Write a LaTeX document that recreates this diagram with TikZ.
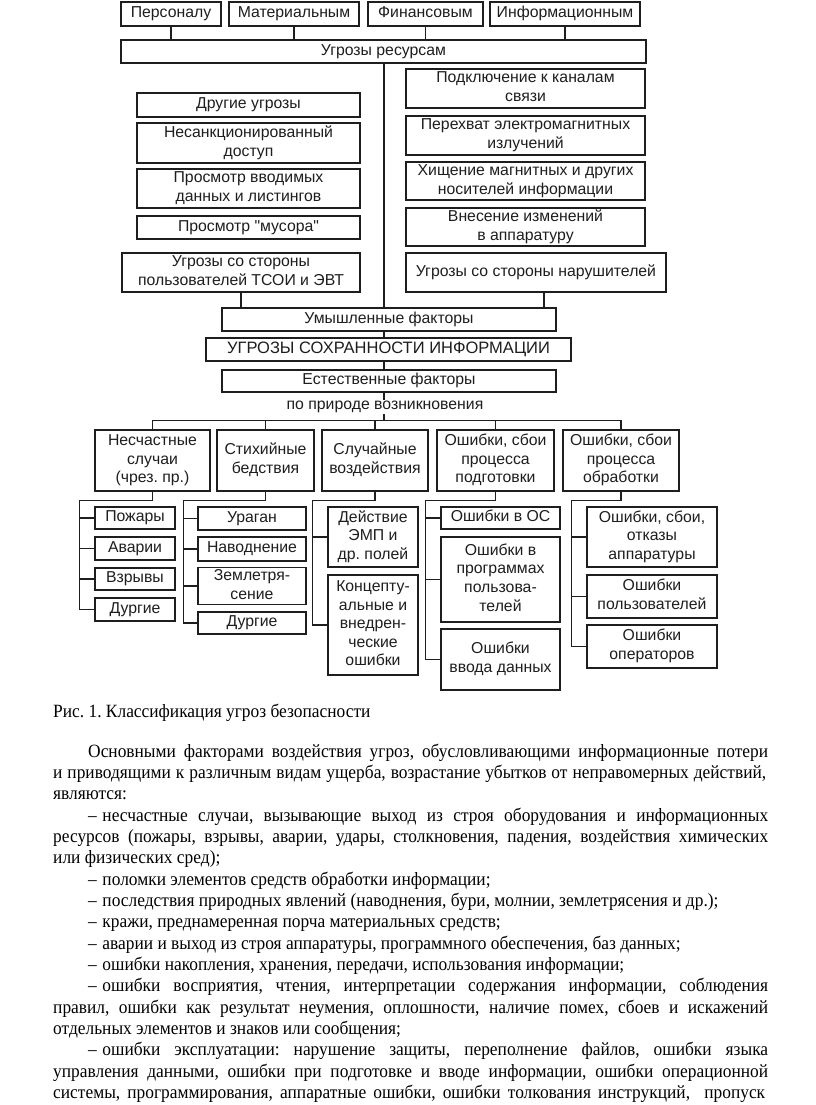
\documentclass[tikz,border=0pt]{standalone}
\usepackage{fontspec}
\setmainfont[FakeStretch=0.93]{Liberation Serif}
\newfontfamily\figfont{Liberation Sans}
\usetikzlibrary{calc}
\definecolor{ink}{HTML}{1E1E1E}
\frenchspacing
\tikzset{
  box/.style={draw=ink, line width=1.3pt, inner sep=0pt, align=center, text=ink,
    font=\figfont\fontsize{15.8}{18.6}\selectfont},
  bigbox/.style={box, font=\figfont\fontsize{16.5}{19}\selectfont},
  conn/.style={draw=ink, line width=1.3pt},
  bodytext/.style={anchor=base west, inner sep=0pt, text=black,
    font=\frenchspacing\fontsize{18.7}{21.4}\selectfont},
  lbl/.style={inner sep=1pt, text=ink, font=\figfont\fontsize{15.8}{18.6}\selectfont}
}
\newcommand\bx[7][box]{%
  \pgfmathsetmacro\bw{#5-#3}\pgfmathsetmacro\bh{#6-#4}%
  \node[#1, minimum width=\bw pt, minimum height=\bh pt] (#2) at ({(#3+#5)/2},{(#4+#6)/2}) {\strut #7\strut};}
\newcommand\txtline[4]{\node[bodytext] (#1) at (#2,#3) {#4};}
\newcommand\jline[5]{\node[bodytext] (#1) at (#2,#3) {\makebox[#4pt][s]{#5}};}
\begin{document}
\begin{tikzpicture}[x=1pt,y=-1pt]
\useasboundingbox (0,0) rectangle (816,1105);
\fill[white] (0,0) rectangle (816,1105);
% top row
\bx{pers}{121}{2}{221}{26}{Персоналу}
\bx{mat}{229}{2}{359}{26}{Материальным}
\bx{fin}{368}{2}{483}{26}{Финансовым}
\bx{inf}{490}{2}{640}{26}{Информационным}
\bx{res}{121}{40}{646}{63}{Угрозы ресурсам}
\foreach \n in {pers,mat,fin,inf} \draw[conn] (\n.south) -- (\n.south |- res.north);
% left column
\bx{l1}{137}{93}{360}{117}{Другие угрозы}
\bx{l2}{137}{123}{360}{163}{Несанкционированный\\доступ}
\bx{l3}{137}{169}{360}{208}{Просмотр вводимых\\данных и листингов}
\bx{l4}{137}{216}{360}{239}{Просмотр "мусора"}
\bx{lu}{122}{253}{360}{292}{Угрозы со стороны\\пользователей ТСОИ и ЭВТ}
% right column
\bx{r1}{406}{69}{645}{108}{Подключение к каналам\\связи}
\bx{r2}{406}{116}{645}{155}{Перехват электромагнитных\\излучений}
\bx{r3}{406}{162}{645}{200}{Хищение магнитных и других\\носителей информации}
\bx{r4}{406}{208}{645}{246}{Внесение изменений\\в аппаратуру}
\bx{ru}{406}{253}{666}{292}{Угрозы со стороны нарушителей}
% centre
\bx{um}{222}{308}{556}{331}{Умышленные факторы}
\bx[bigbox]{ug}{206}{338}{571}{361}{УГРОЗЫ СОХРАННОСТИ ИНФОРМАЦИИ}
\bx{est}{222}{370}{556}{392}{Естественные факторы}
\node[lbl] (nat) at (385,407) {по природе возникновения};
\draw[conn] (res.south -| 384,0) -- (um.north -| 384,0);
\draw[conn] (lu.south) -- (lu.south |- um.north);
\draw[conn] ([xshift=8pt]ru.south) -- ([xshift=8pt]ru.south |- um.north);
\draw[conn] (um.south -| 384,0) -- (ug.north -| 384,0);
\draw[conn] (ug.south -| 384,0) -- (est.north -| 384,0);
\draw[conn] (est.south -| 384,0) -- (nat.north -| 384,0);
% level 1
\bx{b1}{95}{430}{210}{491}{Несчастные\\случаи\\(чрез. пр.)}
\bx{b2}{217}{430}{314}{491}{Стихийные\\бедствия}
\bx{b3}{322}{430}{428}{491}{Случайные\\воздействия}
\bx{b4}{437}{430}{554}{491}{Ошибки, сбои\\процесса\\подготовки}
\bx{b5}{563}{430}{679}{491}{Ошибки, сбои\\процесса\\обработки}
\draw[conn] (b1.north) -- ++(0,-9) coordinate (bus) -| (b5.north);
\foreach \n in {b2,b3,b4} \draw[conn] (\n.north) -- (\n.north |- bus);
\draw[conn] (nat.south -| 384,0) -- (bus -| 384,0);
% children
\bx{c11}{95}{507}{175}{529}{Пожары}
\bx{c12}{95}{537}{175}{560}{Аварии}
\bx{c13}{95}{568}{175}{590}{Взрывы}
\bx{c14}{95}{598}{175}{621}{Дургие}
\bx{c21}{198}{507}{306}{530}{Ураган}
\bx{c22}{198}{537}{306}{561}{Наводнение}
\bx{c23}{198}{568}{306}{604}{Землетря-\\сение}
\bx{c24}{198}{612}{306}{634}{Дургие}
\bx{c31}{328}{507}{418}{567}{Действие\\ЭМП и\\др. полей}
\bx{c32}{328}{575}{418}{675}{Концепту-\\альные и\\внедрен-\\ческие\\ошибки}
\bx{c41}{441}{507}{560}{529}{Ошибки в ОС}
\bx{c42}{441}{537}{560}{622}{Ошибки в\\программах\\пользова-\\телей}
\bx{c43}{441}{629}{560}{690}{Ошибки\\ввода данных}
\bx{c51}{587}{507}{717}{567}{Ошибки, сбои,\\отказы\\аппаратуры}
\bx{c52}{587}{575}{717}{618}{Ошибки\\пользователей}
\bx{c53}{587}{625}{717}{668}{Ошибки\\операторов}
\draw[conn] (b1.south) -- ++(0,9) -| ([xshift=-15pt]c14.west) -- (c14.west);
\foreach \n in {c11,c12,c13} \draw[conn] (\n.west) -- ++(-15,0);
\draw[conn] (b2.south) -- ++(0,9) -| ([xshift=-14pt]c24.west) -- (c24.west);
\foreach \n in {c21,c22,c23} \draw[conn] (\n.west) -- ++(-14,0);
\draw[conn] (b3.south) -- ++(0,9) -| ([xshift=-15pt]c32.west) -- (c32.west);
\draw[conn] (c31.west) -- ++(-15,0);
\draw[conn] (b4.south) -- ++(0,9) -| ([xshift=-15pt]c43.west) -- (c43.west);
\foreach \n in {c41,c42} \draw[conn] (\n.west) -- ++(-15,0);
\draw[conn] (b5.south) -- ++(0,9) -| ([xshift=-15pt]c53.west) -- (c53.west);
\foreach \n in {c51,c52} \draw[conn] (\n.west) -- ++(-15,0);
% text
\txtline{cap}{53}{717}{Рис. 1. Классификация угроз безопасности}
\jline{t0}{88}{757}{680}{Основными факторами воздействия угроз, обусловливающими информационные потери}
\jline{t1}{53}{778.35}{713}{и приводящими к различным видам ущерба, возрастание убытков от неправомерных действий,}
\txtline{t2}{53}{799.7}{являются:}
\jline{t3}{88}{821.05}{680}{–\kern0.3em несчастные случаи, вызывающие выход из строя оборудования и информационных}
\jline{t4}{53}{842.4}{715}{ресурсов (пожары, взрывы, аварии, удары, столкновения, падения, воздействия химических}
\txtline{t5}{53}{863.75}{или физических сред);}
\txtline{t6}{88}{885.1}{–\kern0.3em поломки элементов средств обработки информации;}
\txtline{t7}{88}{906.45}{–\kern0.3em последствия природных явлений (наводнения, бури, молнии, землетрясения и др.);}
\txtline{t8}{88}{927.8}{–\kern0.3em кражи, преднамеренная порча материальных средств;}
\txtline{t9}{88}{949.15}{–\kern0.3em аварии и выход из строя аппаратуры, программного обеспечения, баз данных;}
\txtline{t10}{88}{970.5}{–\kern0.3em ошибки накопления, хранения, передачи, использования информации;}
\jline{t11}{88}{991.85}{680}{–\kern0.3em ошибки восприятия, чтения, интерпретации содержания информации, соблюдения}
\jline{t12}{53}{1013.2}{715}{правил, ошибки как результат неумения, оплошности, наличие помех, сбоев и искажений}
\txtline{t13}{53}{1034.55}{отдельных элементов и знаков или сообщения;}
\jline{t14}{88}{1055.9}{680}{–\kern0.3em ошибки эксплуатации: нарушение защиты, переполнение файлов, ошибки языка}
\jline{t15}{53}{1077.25}{715}{управления данными, ошибки при подготовке и вводе информации, ошибки операционной}
\jline{t16}{53}{1098.6}{712}{системы, программирования, аппаратные ошибки, ошибки толкования инструкций,\ \ пропуск}
\end{tikzpicture}
\end{document}
